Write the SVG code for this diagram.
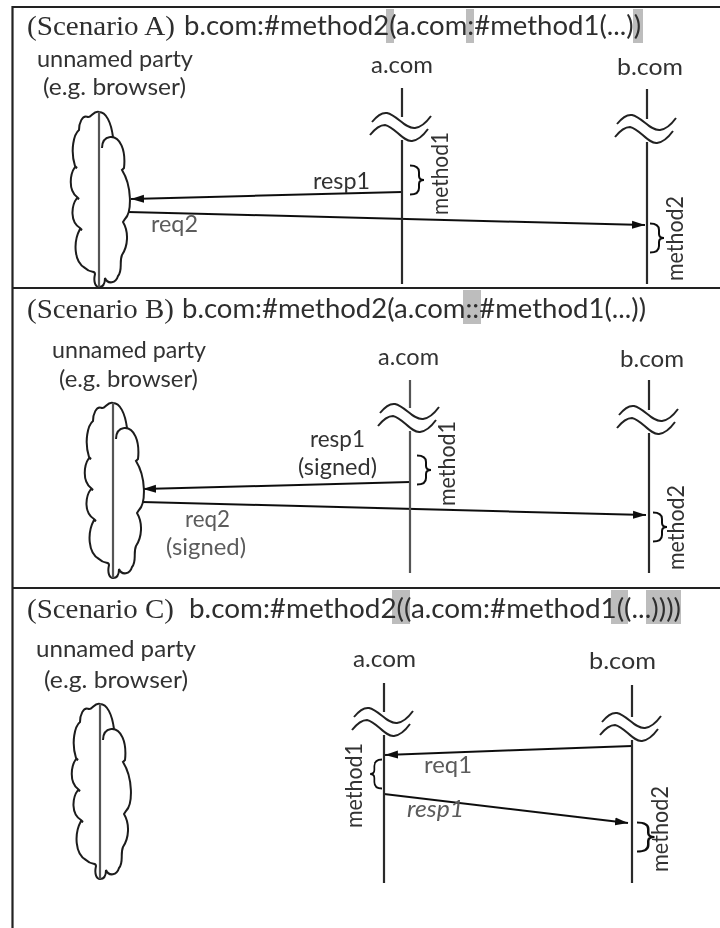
<svg xmlns="http://www.w3.org/2000/svg" xmlns:xlink="http://www.w3.org/1999/xlink" width="720" height="928" viewBox="0 0 720 928">
<style>
text{font-family:"Lato","Liberation Sans",sans-serif;font-size:23px;fill:#333}
.t{font-family:"Liberation Serif",serif;font-size:27px;fill:#2e2e2e}
.h{font-size:26px;fill:#2e2e2e}
.g{fill:#5c5c5c}
.i{font-style:italic}
.hl{fill:#bdbdbd}
.fr{stroke:#222;stroke-width:2.200;fill:none}
.ll{stroke:#2a2a2a;stroke-width:2.200;fill:none}
.ln{stroke:#111;stroke-width:2;fill:none}
.ar{stroke:#111;stroke-width:2;fill:none;marker-end:url(#ah)}
.cl{stroke:#1c1c1c;stroke-width:2;fill:#fff}
.cv{stroke:#555;stroke-width:2.200;fill:none}
</style>
<defs>
<filter id="soft" x="0" y="0" width="100%" height="100%"><feGaussianBlur stdDeviation="0.65"/></filter>
<marker id="ah" markerUnits="userSpaceOnUse" markerWidth="14" markerHeight="10" refX="13" refY="5" orient="auto"><path d="M0 1L13 5L0 9Z" fill="#111"/></marker>
<g id="cloud">
<path class="cl" d="M99 112C94 110 91 118 88 117C82 114 79 124 79 130C74 134 70 150 75 166L77 168L75 167C70 174 68 190 77 197L79 199L77 198C71 206 70 222 80 228L82 230L80 229C73 242 74 262 85 268C91 274 95 270 95 274C93 283 96 287 99 287C103 287 105 284 105 278C108 285 116 283 118 276C123 270 119 262 122 255C128 246 129 232 123 222L125 219C132 212 132 186 122 170L124 168C126 150 120 136 110 137L113 137C111 122 106 112 99 112Z"/>
<path class="cl" style="fill:none" d="M102 148C102 142 104 138 110 137"/>
<path class="cv" d="M99 112V287"/>
</g>
<g id="wig">
<path fill="#fff" stroke="none" d="M-30 -3Q-22 -13 -15 -12C-5 -10 3 4 13 3Q21 2 29 -9L26 4Q18 16 10 16C-7 16 -6 0 -17 0Q-24 0 -32 10Z"/>
<path class="ln" style="stroke:#222" d="M-30 -3Q-22 -13 -15 -12C-5 -10 3 4 13 3Q21 2 29 -9"/>
<path class="ln" style="stroke:#222" d="M-32 10Q-24 0 -17 0C-7 2 1 17 10 16Q18 15 26 4"/>
</g>
<path id="br" class="ln" d="M0 -14.500Q9 -14.500 9 -8V-4Q9 0 14 0Q9 0 9 4V8Q9 14.500 0 14.500"/>
</defs>
<g filter="url(#soft)">
<rect width="720" height="928" fill="#fff"/>
<g id="frame">
<path class="fr" d="M720 7H12.500V928M12.500 288H720M12.500 588H720"/>
</g>

<g id="titles">
<rect class="hl" x="386" y="9" width="8" height="34"/><rect class="hl" x="466" y="9" width="8" height="34"/><rect class="hl" x="633" y="9" width="10" height="34"/>
<text class="t" x="27" y="35" textLength="148" lengthAdjust="spacingAndGlyphs">(Scenario A)</text>
<text class="h" x="184" y="35" textLength="457" lengthAdjust="spacingAndGlyphs">b.com:#method2(a.com:#method1(...))</text>
<rect class="hl" x="463" y="290" width="18" height="34"/>
<text class="t" x="27" y="318" textLength="147" lengthAdjust="spacingAndGlyphs">(Scenario B)</text>
<text class="h" x="182" y="318" textLength="464" lengthAdjust="spacingAndGlyphs">b.com:#method2(a.com::#method1(...))</text>
<rect class="hl" x="392" y="590" width="18" height="34"/><rect class="hl" x="611" y="590" width="17" height="34"/><rect class="hl" x="646" y="590" width="35" height="34"/>
<text class="t" x="27" y="618" textLength="147" lengthAdjust="spacingAndGlyphs">(Scenario C)</text>
<text class="h" x="189" y="618" textLength="492" lengthAdjust="spacingAndGlyphs">b.com:#method2((a.com:#method1((...))))</text>
</g>

<g id="connectors">
<path class="ar" d="M402 192L131 199"/>
<path class="ar" d="M128 212L645 225"/>
<path class="ar" d="M410 482L143 489"/>
<path class="ar" d="M142 502L646 515"/>
<path class="ar" d="M632 746L385 755"/>
<path class="ar" d="M384 794L628 823"/>
</g>

<g id="A-party"><use href="#cloud"/><text x="37" y="67" textLength="156" lengthAdjust="spacingAndGlyphs">unnamed party</text><text x="43" y="95" textLength="143" lengthAdjust="spacingAndGlyphs">(e.g. browser)</text></g>
<g id="A-acom">
<text x="371" y="73" textLength="62" lengthAdjust="spacingAndGlyphs">a.com</text>
<path class="ll" d="M402 88V117M402 140V284"/>
<use href="#wig" transform="translate(402 125)"/>
<use href="#br" transform="translate(410 180)"/>
<text transform="translate(448 215) rotate(-90)" textLength="83" lengthAdjust="spacingAndGlyphs">method1</text>
</g>
<g id="A-bcom">
<text x="617" y="75" textLength="66" lengthAdjust="spacingAndGlyphs">b.com</text>
<path class="ll" d="M647 89V119M647 142V284"/>
<use href="#wig" transform="translate(647 127)"/>
<use href="#br" transform="translate(650 238)"/>
<text transform="translate(683 281) rotate(-90)" textLength="85" lengthAdjust="spacingAndGlyphs">method2</text>
</g>
<text x="313" y="189" textLength="57" lengthAdjust="spacingAndGlyphs">resp1</text>
<text class="g" x="151" y="232" textLength="47" lengthAdjust="spacingAndGlyphs">req2</text>

<g id="B-party"><use href="#cloud" transform="translate(14 291)"/><text x="52" y="358" textLength="154" lengthAdjust="spacingAndGlyphs">unnamed party</text><text x="59" y="387" textLength="139" lengthAdjust="spacingAndGlyphs">(e.g. browser)</text></g>
<g id="B-acom">
<text x="378" y="365" textLength="61" lengthAdjust="spacingAndGlyphs">a.com</text>
<path class="ll" style="stroke:#555" d="M410 380V408M410 431V573"/>
<use href="#wig" transform="translate(410 416)"/>
<use href="#br" transform="translate(417 470)"/>
<text transform="translate(455 506) rotate(-90)" textLength="85" lengthAdjust="spacingAndGlyphs">method1</text>
</g>
<g id="B-bcom">
<text x="620" y="367" textLength="64" lengthAdjust="spacingAndGlyphs">b.com</text>
<path class="ll" d="M649 380V410M649 433V573"/>
<use href="#wig" transform="translate(649 418)"/>
<use href="#br" transform="translate(653 527)"/>
<text transform="translate(684 570) rotate(-90)" textLength="85" lengthAdjust="spacingAndGlyphs">method2</text>
</g>
<text x="310" y="447" textLength="55" lengthAdjust="spacingAndGlyphs">resp1</text>
<text x="298" y="475" textLength="79" lengthAdjust="spacingAndGlyphs">(signed)</text>
<text class="g" x="185" y="527" textLength="45" lengthAdjust="spacingAndGlyphs">req2</text>
<text class="g" x="166" y="555" textLength="80" lengthAdjust="spacingAndGlyphs">(signed)</text>

<g id="C-party"><use href="#cloud" transform="translate(1 592)"/><text x="36" y="657" textLength="160" lengthAdjust="spacingAndGlyphs">unnamed party</text><text x="44" y="688" textLength="144" lengthAdjust="spacingAndGlyphs">(e.g. browser)</text></g>
<g id="C-acom">
<text x="353" y="667" textLength="63" lengthAdjust="spacingAndGlyphs">a.com</text>
<path class="ll" d="M384 683V712M384 735V883"/>
<use href="#wig" transform="translate(384 720)"/>
<use href="#br" transform="translate(382 774) scale(-0.85 1)"/>
<text transform="translate(362 828) rotate(-90)" textLength="85" lengthAdjust="spacingAndGlyphs">method1</text>
</g>
<g id="C-bcom">
<text x="589" y="669" textLength="67" lengthAdjust="spacingAndGlyphs">b.com</text>
<path class="ll" d="M632 685V717M632 740V883"/>
<use href="#wig" transform="translate(632 725)"/>
<use href="#br" transform="translate(637 837) scale(1.25 1)"/>
<text transform="translate(668 872) rotate(-90)" textLength="86" lengthAdjust="spacingAndGlyphs">method2</text>
</g>
<text class="g" x="424" y="773" textLength="48" lengthAdjust="spacingAndGlyphs">req1</text>
<text class="g i" x="407" y="817" textLength="57" lengthAdjust="spacingAndGlyphs">resp1</text>
</g>
</svg>
